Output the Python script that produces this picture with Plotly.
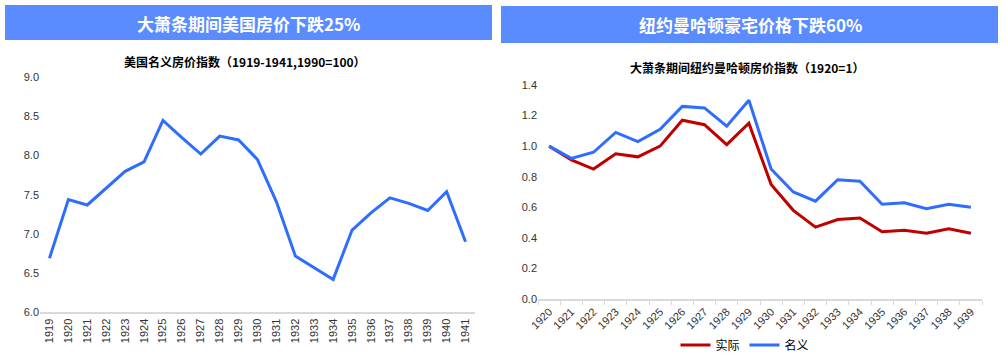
import plotly.graph_objects as go

# Left chart: US nominal house price index
us_years = [str(y) for y in range(1919, 1942)]
us_index = [6.69, 7.44, 7.37, 7.58, 7.80, 7.92, 8.45, 8.23, 8.02, 8.25, 8.20,
            7.95, 7.41, 6.72, 6.57, 6.42, 7.05, 7.27, 7.46, 7.39, 7.30, 7.54, 6.90]

# Right chart: Manhattan house price index (1920=1)
nyc_years = [str(y) for y in range(1920, 1940)]
nyc_real = [1.00, 0.91, 0.85, 0.95, 0.93, 1.00, 1.17, 1.14, 1.01, 1.15,
            0.75, 0.58, 0.47, 0.52, 0.53, 0.44, 0.45, 0.43, 0.46, 0.43]
nyc_nominal = [1.00, 0.92, 0.96, 1.09, 1.03, 1.11, 1.26, 1.25, 1.13, 1.30,
               0.85, 0.70, 0.64, 0.78, 0.77, 0.62, 0.63, 0.59, 0.62, 0.60]

left_ticks = [6.0, 6.5, 7.0, 7.5, 8.0, 8.5, 9.0]
right_ticks = [0.0, 0.2, 0.4, 0.6, 0.8, 1.0, 1.2, 1.4]

W, H = 1007, 358
BLUE = "#2f6dff"
RED = "#c00000"
BANNER = "#5a8cff"
CJK = "Noto Sans CJK SC"

def px(x):
    return x / W

def py(y):
    return 1 - y / H

fig = go.Figure()

fig.add_trace(go.Scatter(x=us_years, y=us_index, mode="lines",
                         line=dict(color=BLUE, width=3), showlegend=False,
                         xaxis="x", yaxis="y"))
fig.add_trace(go.Scatter(x=nyc_years, y=nyc_real, mode="lines", name="实际",
                         line=dict(color=RED, width=3), xaxis="x2", yaxis="y2"))
fig.add_trace(go.Scatter(x=nyc_years, y=nyc_nominal, mode="lines", name="名义",
                         line=dict(color=BLUE, width=3), xaxis="x2", yaxis="y2"))

tickfont = dict(family="Liberation Sans, Arial", size=11, color="#333333")

fig.update_layout(
    template="none",
    width=W, height=H,
    margin=dict(l=0, r=0, t=0, b=0, pad=0, autoexpand=False),
    paper_bgcolor="white", plot_bgcolor="white",
    xaxis=dict(domain=[px(40), px(475)], type="category", tickangle=-90,
               range=[-0.5, len(us_years) - 0.5],
               showgrid=False, showline=True, linecolor="#d9d9d9", linewidth=2,
               ticks="", tickfont=tickfont, anchor="y", automargin=False),
    yaxis=dict(domain=[py(312.3), py(77.3)], range=[6, 9], tickvals=left_ticks,
               ticktext=[f"{v:.1f}" for v in left_ticks], showgrid=False,
               zeroline=False, showline=False, tickfont=tickfont, anchor="x",
               ticks="", automargin=False),
    xaxis2=dict(domain=[px(538), px(982)], type="category", tickangle=-45,
                range=[-0.5, len(nyc_years) - 0.5],
                showgrid=False, showline=True, linecolor="#d9d9d9", linewidth=2,
                ticks="outside", tickson="boundaries", ticklen=4,
                tickcolor="#d9d9d9", tickfont=tickfont, anchor="y2", automargin=False),
    yaxis2=dict(domain=[py(299), py(85)], range=[0, 1.4], tickvals=right_ticks,
                ticktext=[f"{v:.1f}" for v in right_ticks], showgrid=False,
                zeroline=False, showline=False, tickfont=tickfont, anchor="x2",
                ticks="", automargin=False),
    legend=dict(orientation="h", x=px(745), y=py(345), xanchor="center",
                yanchor="middle", font=dict(family=CJK, size=12, color="#000"),
                itemwidth=30, tracegroupgap=0, bgcolor="rgba(0,0,0,0)"),
    shapes=[
        dict(type="rect", xref="paper", yref="paper", x0=px(5), x1=px(492),
             y0=py(40), y1=py(5), fillcolor=BANNER, line=dict(width=0)),
        dict(type="rect", xref="paper", yref="paper", x0=px(501), x1=px(998),
             y0=py(43), y1=py(6), fillcolor=BANNER, line=dict(width=0)),
    ],
    annotations=[
        dict(text="<b>大萧条期间美国房价下跌25%</b>", xref="paper", yref="paper",
             x=px(248), y=py(23), showarrow=False, xanchor="center", yanchor="middle",
             font=dict(family=CJK, size=17, color="white")),
        dict(text="<b>纽约曼哈顿豪宅价格下跌60%</b>", xref="paper", yref="paper",
             x=px(750), y=py(25), showarrow=False, xanchor="center", yanchor="middle",
             font=dict(family=CJK, size=17, color="white")),
        dict(text="<b>美国名义房价指数（1919-1941,1990=100）</b>", xref="paper", yref="paper",
             x=px(245), y=py(62), showarrow=False, xanchor="center", yanchor="middle",
             font=dict(family=CJK, size=12, color="#000")),
        dict(text="<b>大萧条期间纽约曼哈顿房价指数（1920=1）</b>", xref="paper", yref="paper",
             x=px(747), y=py(67), showarrow=False, xanchor="center", yanchor="middle",
             font=dict(family=CJK, size=12, color="#000")),
    ],
)

fig.write_html("out.html", config={"displayModeBar": False},
               post_script="document.body.style.margin='0';document.body.style.overflow='hidden';")
